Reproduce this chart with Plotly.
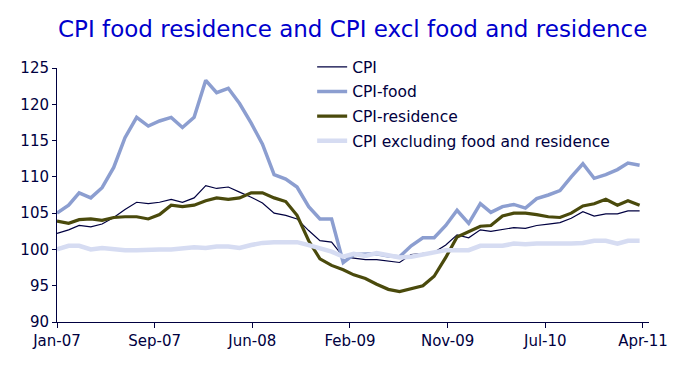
import pandas as pd
import plotly.graph_objects as go

dates = pd.date_range("2007-01-01", periods=52, freq="MS")

cpi = [102.2, 102.7, 103.3, 103.1, 103.5, 104.4, 105.5, 106.5, 106.3, 106.5, 106.9, 106.5,
       107.1, 108.8, 108.4, 108.6, 107.9, 107.2, 106.4, 105.0, 104.7, 104.2, 102.6, 101.2,
       101.0, 99.0, 98.8, 98.6, 98.6, 98.4, 98.2, 99.3, 99.4, 99.6, 100.6, 102.0,
       101.6, 102.7, 102.5, 102.8, 103.0, 102.9, 103.3, 103.5, 103.7, 104.3, 105.2, 104.6,
       104.9, 104.9, 105.3, 105.3]

cpi_food = [105.0, 106.1, 107.8, 107.1, 108.5, 111.3, 115.4, 118.2, 117.0, 117.7, 118.2, 116.8,
            118.2, 123.3, 121.6, 122.2, 120.1, 117.4, 114.5, 110.3, 109.7, 108.6, 105.9, 104.2,
            104.2, 98.2, 99.3, 99.3, 99.4, 99.1, 99.0, 100.5, 101.6, 101.6, 103.3, 105.4,
            103.6, 106.3, 105.1, 105.9, 106.2, 105.7, 107.0, 107.5, 108.1, 110.0, 111.8, 109.8,
            110.3, 111.0, 111.9, 111.6]

cpi_res = [103.9, 103.6, 104.1, 104.2, 104.0, 104.4, 104.5, 104.5, 104.2, 104.8, 106.1, 105.9,
           106.1, 106.7, 107.1, 106.9, 107.1, 107.8, 107.8, 107.1, 106.6, 104.7, 101.2, 98.7,
           97.8, 97.2, 96.5, 96.0, 95.2, 94.5, 94.2, 94.6, 95.0, 96.3, 98.9, 101.7,
           102.5, 103.2, 103.3, 104.6, 105.0, 105.0, 104.8, 104.5, 104.4, 105.0, 106.0, 106.3,
           106.9, 106.1, 106.7, 106.1]

cpi_excl = [100.0, 100.5, 100.5, 100.0, 100.2, 100.0, 99.9, 99.9, 100.0, 100.0, 100.0, 100.2,
            100.3, 100.2, 100.4, 100.4, 100.2, 100.6, 100.9, 101.0, 101.0, 101.0, 100.6, 100.1,
            99.7, 99.0, 99.4, 99.1, 99.5, 99.2, 98.9, 99.0, 99.3, 99.6, 99.9, 99.9,
            99.9, 100.5, 100.5, 100.5, 100.8, 100.7, 100.8, 100.8, 100.7, 100.8, 100.9, 101.2,
            101.2, 100.8, 101.2, 101.2]

tick_dates = ["2007-01-01", "2007-09-18", "2008-06-04", "2009-02-19",
              "2009-11-06", "2010-07-24", "2011-04-10"]
tick_labels = ["Jan-07", "Sep-07", "Jun-08", "Feb-09", "Nov-09", "Jul-10", "Apr-11"]

NAVY = "#000040"
FONT = "DejaVu Sans"

fig = go.Figure()
series = [
    ("CPI", cpi, NAVY, 1.2),
    ("CPI-food", cpi_food, "#8C9ED0", 3.5),
    ("CPI-residence", cpi_res, "#4A4A0C", 3.2),
    ("CPI excluding food and residence", cpi_excl, "#D6DCF2", 4.5),
]
for name, vals, col, w in series:
    fig.add_trace(go.Scatter(x=dates, y=vals, mode="lines", name=name,
                             legendgroup=name,
                             line=dict(color=col, width=w)))

# page body has an 8px margin, so the figure is slightly smaller and offset
fig.update_layout(
    width=684, height=357,
    paper_bgcolor="white", plot_bgcolor="white",
    margin=dict(l=44, r=43, t=60, b=43),
    title=dict(text="CPI food residence and CPI excl food and residence",
               x=0.504, xanchor="center", y=0.941, yanchor="middle",
               font=dict(family=FONT, size=23, color="#0000CC")),
    font=dict(family=FONT, size=15, color=NAVY),
    legend=dict(x=0.431, y=1.07, xanchor="left", yanchor="top",
                bgcolor="rgba(0,0,0,0)", traceorder="grouped",
                tracegroupgap=1.5,
                font=dict(family=FONT, size=15.5, color=NAVY)),
    showlegend=True,
)
fig.update_xaxes(type="date", range=["2007-01-01", "2011-04-26"],
                 tickvals=tick_dates, ticktext=tick_labels,
                 showgrid=False, zeroline=False,
                 showline=True, linecolor=NAVY, linewidth=1,
                 ticks="outside", ticklen=5, tickcolor=NAVY,
                 tickfont=dict(family=FONT, size=15, color=NAVY))
fig.update_yaxes(range=[90, 125], dtick=5, tick0=90,
                 showgrid=False, zeroline=False,
                 showline=True, linecolor=NAVY, linewidth=1,
                 ticks="outside", ticklen=4, tickcolor=NAVY,
                 tickfont=dict(family=FONT, size=15, color=NAVY))

fig.write_html("out.html")
